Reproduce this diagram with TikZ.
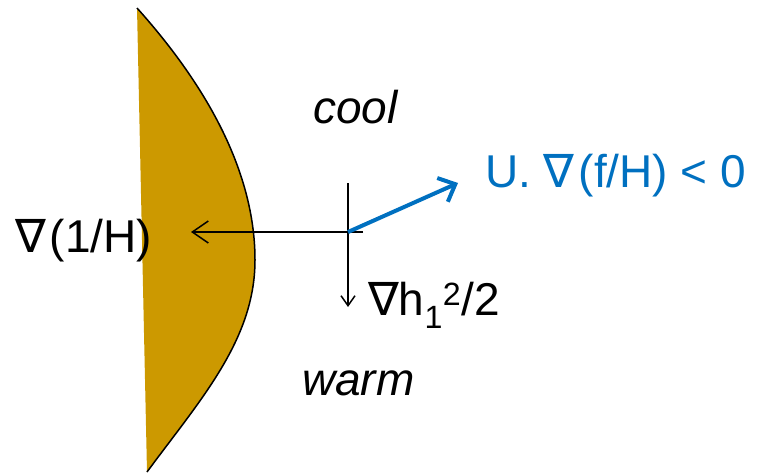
\documentclass[tikz,border=0pt]{standalone}
\usepackage{fontspec}
\setmainfont{Liberation Sans}
\newfontfamily\symfont{DejaVu Sans}
\newcommand{\nab}{{\symfont ∇}\kern4pt}
\usetikzlibrary{arrows.meta}
\definecolor{ridgegold}{RGB}{204,153,0}
\definecolor{flowblue}{RGB}{0,112,192}
\begin{document}
\begin{tikzpicture}[
  x=1pt, y=-1pt,
  lbl/.style={anchor=base west, inner sep=0pt, font=\fontsize{46}{52}\selectfont},
  grad/.style={line width=1.5pt, draw=black},
  flow/.style={line width=4pt, draw=flowblue, -{Straight Barb[length=14pt,width=26pt]}}
]
  \useasboundingbox (0,0) rectangle (757,474);

  % Ridge
  \fill[ridgegold] (137,8) .. controls (215,95) and (255,180) .. (255,260)
    .. controls (255,340) and (200,400) .. (147,472) -- cycle;
  \draw[line width=1.5pt] (137,8) .. controls (215,95) and (255,180) .. (255,260)
    .. controls (255,340) and (200,400) .. (147,472);

  % Coordinates
  \coordinate (o) at (348,232);
  \coordinate (east) at (363,232);
  \coordinate (west) at (191,232);
  \coordinate (north) at (348,183);
  \coordinate (south) at (348,307);
  \coordinate (tip) at (458,183);

  % Arrows
  \draw[grad, -{Straight Barb[length=16pt,width=22pt]}] (east) -- (west);
  \draw[grad, -{Straight Barb[length=10pt,width=14pt]}] (north) -- (south);
  \draw[flow] (o) -- (tip);

  % Labels
  \node[lbl] (invh) at (15,252) {\nab(1/H)};
  \node[lbl, font=\fontsize{46}{52}\selectfont\itshape] (cool) at (313,123) {cool};
  \node[lbl, font=\fontsize{46}{52}\selectfont\itshape] (warm) at (302,395) {warm};
  \node[lbl, text=flowblue] (adv) at (485,187) {U. \nab(f/H) < 0};
  \node[lbl] (thick) at (368,315) {{\symfont ∇}h\textsubscript{1}\textsuperscript{2}/2};
\end{tikzpicture}
\end{document}
